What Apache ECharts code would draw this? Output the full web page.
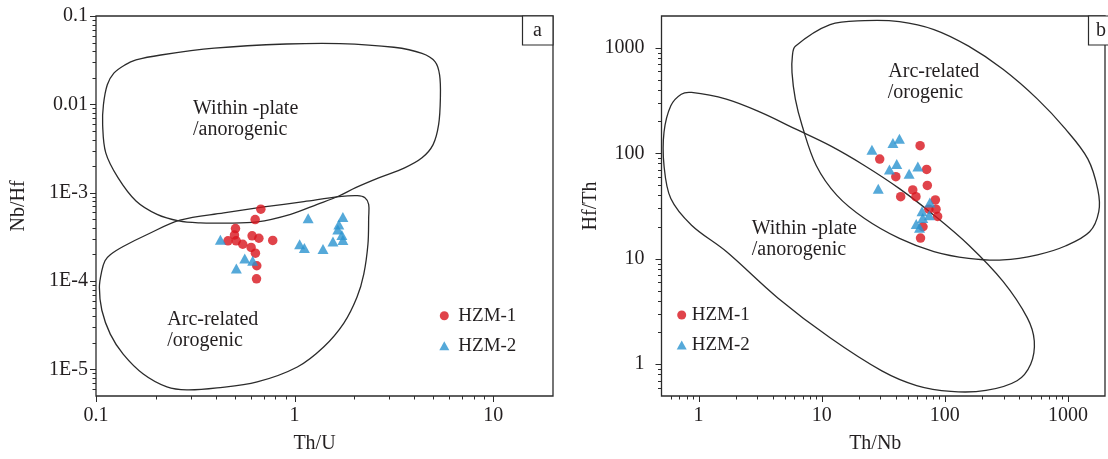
<!DOCTYPE html>
<html><head><meta charset="utf-8">
<script src="https://cdn.jsdelivr.net/npm/echarts@6/dist/echarts.min.js"></script>
<style>html,body{margin:0;padding:0;background:#fff}#c{width:1108px;height:459px}</style>
</head><body><div id="c"></div><script>
// ---------- Panel a: Th/U vs Nb/Hf ----------
const hzm1_a_thu  = [0.676,0.633,0.504,0.498,0.462,0.508,0.548,0.611,0.661,0.776,0.604,0.635,0.645,0.643];
const hzm1_a_nbhf = [6.5e-4,4.96e-4,3.93e-4,3.32e-4,2.85e-4,2.85e-4,2.61e-4,3.25e-4,3.05e-4,2.88e-4,2.40e-4,2.07e-4,1.49e-4,1.06e-4];
const hzm2_a_thu  = [0.423,0.561,0.615,0.509,1.17,1.06,1.12,1.39,1.56,1.75,1.67,1.65,1.73,1.75];
const hzm2_a_nbhf = [2.93e-4,1.80e-4,1.70e-4,1.39e-4,5.13e-4,2.61e-4,2.37e-4,2.31e-4,2.80e-4,5.32e-4,4.36e-4,3.83e-4,3.32e-4,2.91e-4];
// field boundaries (Th/U, Nb/Hf)
const withinPlateA = [[0.159,0.0318],[0.212,0.0362],[0.394,0.0432],[0.908,0.0482],[1.69,0.0488],[3.16,0.0443],[4.38,0.0378],[5.09,0.0305],[5.37,0.0216],[5.42,0.0118],[5.31,0.00589],[4.98,0.0035],[4.38,0.00248],[3.58,0.00191],[2.67,0.00148],[2.03,0.00114],[1.67,9.18e-4],[1.30,7.38e-4],[0.955,5.69e-4],[0.648,4.67e-4],[0.438,4.53e-4],[0.335,4.55e-4],[0.261,4.80e-4],[0.203,5.69e-4],[0.159,8.06e-4],[0.129,0.00148],[0.112,0.00282],[0.108,0.00589],[0.109,0.0099],[0.114,0.01665],[0.123,0.02255],[0.140,0.0280]];
const arcRelatedA = [[0.107,1.31e-4],[0.111,1.70e-4],[0.118,1.99e-4],[0.137,2.46e-4],[0.180,3.34e-4],[0.265,4.88e-4],[0.440,5.90e-4],[0.700,6.90e-4],[1.114,7.92e-4],[1.674,9.01e-4],[2.07,9.25e-4],[2.26,8.78e-4],[2.36,7.38e-4],[2.36,5.23e-4],[2.34,2.61e-4],[2.23,1.20e-4],[2.06,6.55e-5],[1.77,3.34e-5],[1.40,1.79e-5],[1.032,1.064e-5],[0.648,7.21e-6],[0.407,6.17e-6],[0.287,5.86e-6],[0.2275,6.34e-6],[0.173,8.87e-6],[0.137,1.49e-5],[0.118,2.51e-5],[0.107,4.67e-5],[0.104,8.49e-5]];
const xTicksA = [0.1,1,10];
const xTickLabelsA = ['0.1','1','10'];
const xMinorA = [0.2,0.3,0.4,0.5,0.6,0.7,0.8,0.9,2,3,4,5,6,7,8,9];
const yTicksA = [1e-5,1e-4,1e-3,0.01,0.1];
const yTickLabelsA = ['1E-5','1E-4','1E-3','0.01','0.1'];
const yMinorA = [6e-6,7e-6,8e-6,9e-6,2e-5,3e-5,4e-5,5e-5,6e-5,7e-5,8e-5,9e-5,2e-4,3e-4,4e-4,5e-4,6e-4,7e-4,8e-4,9e-4,2e-3,3e-3,4e-3,5e-3,6e-3,7e-3,8e-3,9e-3,0.02,0.03,0.04,0.05,0.06,0.07,0.08,0.09];

// ---------- Panel b: Th/Nb vs Hf/Th ----------
const hzm1_b_thnb = [63.0,29.6,71.2,40.0,72.1,54.9,58.3,43.8,83.8,74.2,84.9,87.4,66.5,63.5];
const hzm1_b_hfth = [118,88.0,70.2,60.0,49.6,44.9,38.8,38.8,36.1,29.5,29.5,25.2,20.1,15.7];
const hzm2_b_thnb = [25.6,37.9,42.8,40.7,35.5,60.4,51.3,28.8,75.6,65.3,74.8,66.2,58.6,62.3];
const hzm2_b_hfth = [108,125,137,78.9,70.2,75.0,63.9,46.2,34.1,28.2,25.9,24.4,21.3,19.7];
const withinPlateB = [[0.877,377],[1.68,326],[3.20,244],[6.11,170],[11.7,118],[22.2,76.6],[42.8,46.2],[81.6,25.9],[156,13.5],[297,6.10],[468,2.75],[533,1.66],[498,1.00],[386,0.697],[216,0.564],[112,0.552],[59.0,0.628],[30.8,0.865],[11.7,1.78],[4.40,4.25],[1.68,11.7],[0.877,20.8],[0.595,37.2],[0.524,76.6],[0.524,158],[0.595,282],[0.724,363]];
const arcRelatedB = [[6.11,1035],[11.7,1658],[22.3,1808],[42.8,1770],[81.6,1488],[156,1035],[297,625],[566,326],[953,170],[1450,88.5],[1750,45],[1780,28],[1500,18.0],[953,13.2],[566,10.9],[297,9.74],[156,10.1],[81.6,11.7],[42.8,15.6],[22.3,24.1],[13.3,39.9],[9.03,76.6],[6.94,182],[6.11,326],[5.74,581],[5.78,833]];
const xTicksB = [1,10,100,1000];
const xTickLabelsB = ['1','10','100','1000'];
const xMinorB = [0.6,0.7,0.8,0.9,2,3,4,5,6,7,8,9,20,30,40,50,60,70,80,90,200,300,400,500,600,700,800,900];
const yTicksB = [1,10,100,1000];
const yTickLabelsB = ['1','10','100','1000'];
const yMinorB = [0.6,0.7,0.8,0.9,2,3,4,5,6,7,8,9,20,30,40,50,60,70,80,90,200,300,400,500,600,700,800,900];

const FONT = "'Liberation Serif','Times New Roman',serif";
const INK = '#231f20';
const LINE = '#2b2b2b';
const RED = '#d8141d';
const BLUE = '#2a93d0';

function fmt(ticks, labels) {
  return function (v) {
    const i = ticks.findIndex(t => Math.abs(Math.log10(t) - Math.log10(v)) < 1e-6);
    return i < 0 ? '' : labels[i];
  };
}
function zip(a, b) { return a.map((v, i) => [v, b[i]]); }

function envelope(gi, pts) {
  return {
    type: 'custom', xAxisIndex: gi, yAxisIndex: gi, silent: true, clip: false, z: 2,
    data: pts,
    renderItem(params, api) {
      if (params.dataIndex !== 0) return null;
      return { type: 'polygon', shape: { points: pts.map(p => api.coord(p)), smooth: 0.35 },
        style: { fill: 'none', stroke: LINE, lineWidth: 1.3 } };
    }
  };
}
function ticks(gi, dim, values, base, len) {
  return {
    type: 'custom', xAxisIndex: gi, yAxisIndex: gi, silent: true, clip: false, z: 5,
    data: values.map(v => dim === 'x' ? [v, base] : [base, v]),
    renderItem(params, api) {
      const p = api.coord([api.value(0), api.value(1)]);
      const s = dim === 'x'
        ? { x1: Math.round(p[0]) + 0.5, y1: p[1], x2: Math.round(p[0]) + 0.5, y2: p[1] + len }
        : { x1: p[0] - len, y1: Math.round(p[1]) + 0.5, x2: p[0], y2: Math.round(p[1]) + 0.5 };
      return { type: 'line', shape: s, style: { stroke: LINE, lineWidth: 1 } };
    }
  };
}
function xAxisDef(gi, min, max, name, tv, tl, padR) {
  return {
    type: 'log', logBase: 10, gridIndex: gi, min, max, name, nameLocation: 'middle', nameGap: 38,
    nameTextStyle: { fontFamily: FONT, fontSize: 20, color: INK, padding: [0, padR, 0, 0] },
    axisLine: { show: false }, axisTick: { show: false }, splitLine: { show: false },
    axisLabel: { fontFamily: FONT, fontSize: 20, color: INK, margin: 10, formatter: fmt(tv, tl) }
  };
}
function yAxisDef(gi, min, max, name, tv, tl, gap, margin) {
  return {
    type: 'log', logBase: 10, gridIndex: gi, min, max, name, nameLocation: 'middle', nameGap: gap,
    nameTextStyle: { fontFamily: FONT, fontSize: 20, color: INK },
    axisLine: { show: false }, axisTick: { show: false }, splitLine: { show: false },
    axisLabel: { fontFamily: FONT, fontSize: 20, color: INK, margin, formatter: fmt(tv, tl) }
  };
}
const legendText = (pl) => ({ fontFamily: FONT, fontSize: 19, color: INK, lineHeight: 20, padding: [4, 0, 0, pl] });
const legendData = [{ name: 'HZM-1', icon: 'circle' }, { name: 'HZM-2', icon: 'triangle' }];
const txt = (x, y, s, align) => ({ type: 'text', x, y, z: 10,
  style: { text: s, font: '20px ' + FONT, fill: INK, verticalAlign: 'middle', align: align || 'left' } });

const option = {
  animation: false,
  backgroundColor: '#ffffff',
  grid: [
    { left: 96, top: 16, width: 457, height: 382, show: true, borderColor: LINE, borderWidth: 1.3 },
    { left: 661.5, top: 16, width: 457, height: 382, show: true, borderColor: LINE, borderWidth: 1.3 }
  ],
  xAxis: [
    xAxisDef(0, 0.1, 20, 'Th/U', xTicksA, xTickLabelsA, 20),
    xAxisDef(1, 0.5, 2000, 'Th/Nb', xTicksB, xTickLabelsB, 16)
  ],
  yAxis: [
    yAxisDef(0, 5e-6, 0.1, 'Nb/Hf', yTicksA, yTickLabelsA, 67, 8),
    yAxisDef(1, 0.5, 2000, 'Hf/Th', yTicksB, yTickLabelsB, 54, 17)
  ],
  legend: [
    { left: 439.3, top: 303.7, padding: 0, orient: 'vertical', itemWidth: 10, itemHeight: 9, itemGap: 6,
      selectedMode: false, data: legendData, textStyle: legendText(4) },
    { left: 676.7, top: 303, padding: 0, orient: 'vertical', itemWidth: 10, itemHeight: 9, itemGap: 6,
      selectedMode: false, data: legendData, textStyle: legendText(0) }
  ],
  graphic: [
    txt(193, 108.3, 'Within -plate'), txt(193, 130, '/anorogenic'),
    txt(167.3, 319.3, 'Arc-related'), txt(167.3, 341, '/orogenic'),
    txt(888.3, 71.7, 'Arc-related'), txt(887.7, 92.7, '/orogenic'),
    txt(751.7, 228.3, 'Within -plate'), txt(751.7, 250, '/anorogenic'),
    { type: 'rect', z: 9, shape: { x: 522.5, y: 16, width: 30.5, height: 29 },
      style: { fill: '#fff', stroke: LINE, lineWidth: 1.2 } },
    txt(537.5, 31, 'a', 'center'),
    { type: 'rect', z: 9, shape: { x: 1088.5, y: 16, width: 40, height: 29 },
      style: { fill: '#fff', stroke: LINE, lineWidth: 1.2 } },
    txt(1096, 31, 'b')
  ],
  series: [
    envelope(0, withinPlateA), envelope(0, arcRelatedA),
    envelope(1, withinPlateB), envelope(1, arcRelatedB),
    ticks(0, 'x', xTicksA, 5e-6, 6), ticks(0, 'x', xMinorA, 5e-6, 3.5),
    ticks(0, 'y', yTicksA, 0.1, 6), ticks(0, 'y', yMinorA, 0.1, 3.5),
    ticks(1, 'x', xTicksB, 0.5, 6), ticks(1, 'x', xMinorB, 0.5, 3.5),
    ticks(1, 'y', yTicksB, 0.5, 6), ticks(1, 'y', yMinorB, 0.5, 3.5),
    { name: 'HZM-1', type: 'scatter', xAxisIndex: 0, yAxisIndex: 0, symbol: 'circle', symbolSize: 9.5,
      itemStyle: { color: RED }, z: 6, data: zip(hzm1_a_thu, hzm1_a_nbhf) },
    { name: 'HZM-2', type: 'scatter', xAxisIndex: 0, yAxisIndex: 0, symbol: 'triangle', symbolSize: [11, 10],
      itemStyle: { color: BLUE }, z: 6, data: zip(hzm2_a_thu, hzm2_a_nbhf) },
    { name: 'HZM-1', type: 'scatter', xAxisIndex: 1, yAxisIndex: 1, symbol: 'circle', symbolSize: 9.5,
      itemStyle: { color: RED }, z: 6, data: zip(hzm1_b_thnb, hzm1_b_hfth) },
    { name: 'HZM-2', type: 'scatter', xAxisIndex: 1, yAxisIndex: 1, symbol: 'triangle', symbolSize: [11, 10],
      itemStyle: { color: BLUE }, z: 6, data: zip(hzm2_b_thnb, hzm2_b_hfth) }
  ]
};
const chart = echarts.init(document.getElementById('c'), null, { renderer: 'canvas' });
chart.setOption(option);
</script></body></html>
